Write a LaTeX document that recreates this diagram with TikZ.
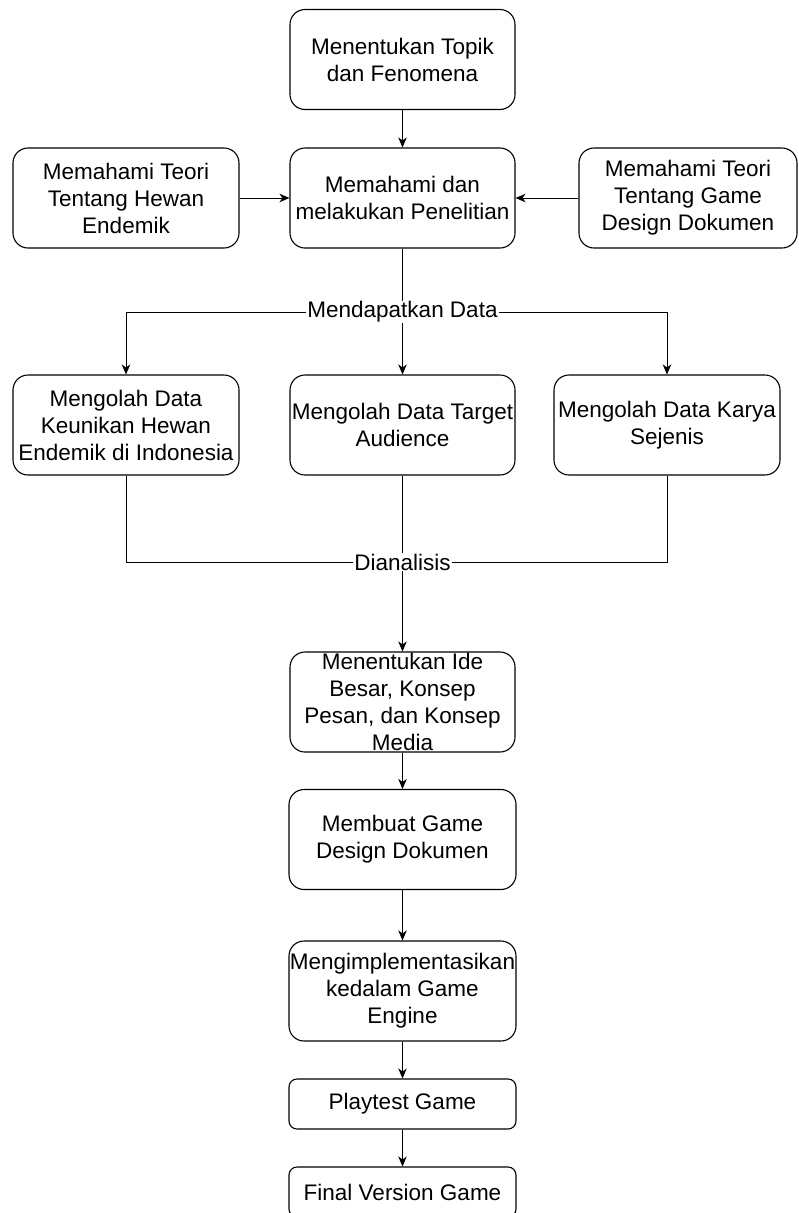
\documentclass[tikz,border=0pt]{standalone}
\usepackage{fontspec}
\setmainfont{Liberation Sans}
\usetikzlibrary{arrows.meta}
\tikzset{
  box/.style={draw=black, line width=1.1pt, rounded corners=15pt, align=center, inner sep=0pt,
    font=\fontsize{22.5}{27}\selectfont, minimum height=100pt},
  smallbox/.style={box, rounded corners=8pt, minimum height=50pt},
  conn/.style={draw=black, line width=1pt},
  arr/.style={conn, -{Stealth[length=10pt,width=8.5pt,inset=3pt]}},
  lbl/.style={fill=white, inner sep=1pt, font=\fontsize{22.5}{27}\selectfont}
}
\begin{document}
\begin{tikzpicture}[x=1pt,y=-1pt]
\clip (0,0) rectangle (798,1213);
\fill[white] (0,0) rectangle (798,1213);
% nodes
\node[box, minimum width=225pt] (top) at (402.5,59.5) {Menentukan Topik\\dan Fenomena};
\node[box, minimum width=225pt] (mid) at (402.5,198) {Memahami dan\\melakukan Penelitian};
\node[box, minimum width=226pt] (left2) at (126,198) {Memahami Teori\\Tentang Hewan\\Endemik};
\node[box, minimum width=218pt] (right2) at (688,198) {Memahami Teori\\Tentang Game\\Design Dokumen};
\node[box, minimum width=226pt] (L3) at (126,425) {Mengolah Data\\Keunikan Hewan\\Endemik di Indonesia};
\node[box, minimum width=225pt] (M3) at (402.5,425) {Mengolah Data Target\\Audience};
\node[box, minimum width=226pt] (R3) at (667,425) {Mengolah Data Karya\\Sejenis};
\node[box, minimum width=225pt] (idea) at (402.5,702) {Menentukan Ide\\Besar, Konsep\\Pesan, dan Konsep\\Media};
\node[box, minimum width=227pt] (gdd) at (402.5,839.5) {Membuat Game\\Design Dokumen};
\node[box, minimum width=227pt] (impl) at (402.5,991) {Mengimplementasikan\\kedalam Game\\Engine};
\node[smallbox, minimum width=227pt] (play) at (402.5,1104) {Playtest Game};
\node[smallbox, minimum width=227pt] (final) at (402.5,1192) {Final Version Game};
\coordinate (j1) at (402.5,312);
\coordinate (j2) at (402.5,562);
% connectors
\draw[arr] (top) -- (mid);
\draw[arr] (left2) -- (mid);
\draw[arr] (right2) -- (mid);
\draw[conn] (mid) -- (j1);
\draw[arr] (j1) -| (L3);
\draw[arr] (j1) -- (M3);
\draw[arr] (j1) -| (R3);
\node[lbl] (l1) at (j1) {Mendapatkan Data};
\draw[conn] (L3) |- (j2);
\draw[conn] (R3) |- (j2);
\draw[conn] (M3) -- (j2);
\draw[arr] (j2) -- (idea);
\node[lbl] (l2) at (j2) {Dianalisis};
\draw[arr] (idea) -- (gdd);
\draw[arr] (gdd) -- (impl);
\draw[arr] (impl) -- (play);
\draw[arr] (play) -- (final);
\end{tikzpicture}
\end{document}
